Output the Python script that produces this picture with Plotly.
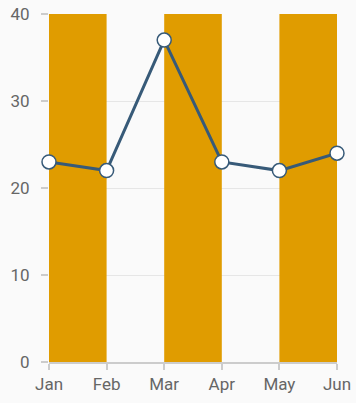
import plotly.graph_objects as go

months = ["Jan", "Feb", "Mar", "Apr", "May", "Jun"]
values = [23, 22, 37, 23, 22, 24]
bands = [("Jan", "Feb"), ("Mar", "Apr"), ("May", "Jun")]
y_ticks = [0, 10, 20, 30, 40]

BAND_COLOR = "#E09C00"
LINE_COLOR = "#375A78"
BG = "#FAFAFA"

fig = go.Figure()
fig.add_trace(go.Scatter(
    x=list(range(len(months))), y=values, mode="lines+markers",
    line=dict(color=LINE_COLOR, width=3),
    marker=dict(size=14, color="white", line=dict(color=LINE_COLOR, width=1.5)),
    showlegend=False, cliponaxis=False,
))

shapes = []
for a, b in bands:
    shapes.append(dict(type="rect", xref="x", yref="y",
                       x0=months.index(a), x1=months.index(b), y0=0, y1=40,
                       fillcolor=BAND_COLOR, line=dict(width=0), layer="between"))

fig.update_layout(
    width=356, height=403,
    margin=dict(l=49, r=19, t=14, b=41),
    paper_bgcolor=BG, plot_bgcolor=BG,
    font=dict(family="Roboto", size=17, color="#666666"),
    shapes=shapes,
    xaxis=dict(range=[0, len(months) - 1], tickmode="array",
               tickvals=list(range(len(months))), ticktext=months,
               showgrid=False, zeroline=False, showline=True,
               linecolor="#CCCCCC", linewidth=1.5, automargin=False,
               ticks="outside", ticklen=6, tickcolor="#CCCCCC", tickwidth=1.5,
               tickfont=dict(size=17), fixedrange=True),
    yaxis=dict(range=[0, 40], tickvals=y_ticks, showgrid=True,
               gridcolor="#E6E6E6", gridwidth=1, zeroline=False, showline=False,
               ticks="outside", ticklen=7, tickcolor="#CCCCCC", tickwidth=1.5,
               ticklabelstandoff=8, automargin=False,
               tickfont=dict(size=17), fixedrange=True),
)

fig.write_html("out.html", config={"displayModeBar": False})
